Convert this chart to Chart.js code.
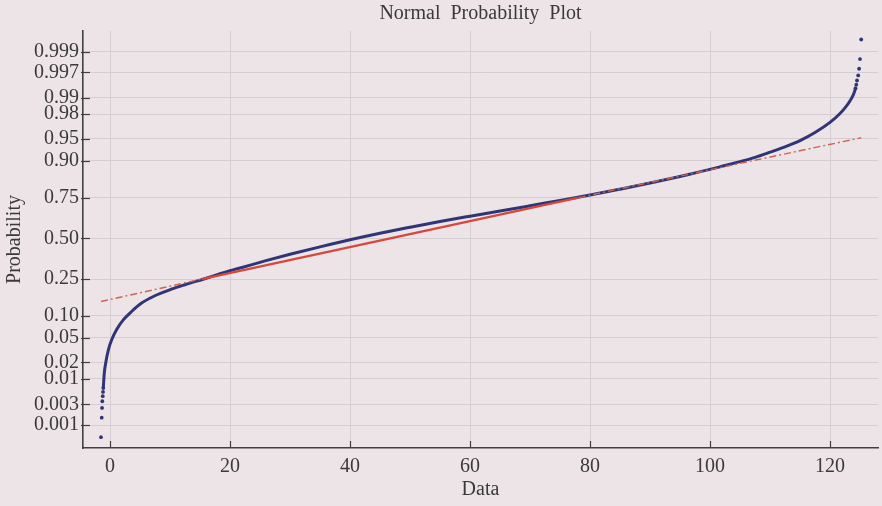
<!DOCTYPE html>
<html>
<head>
<meta charset="utf-8">
<script src="https://cdn.jsdelivr.net/npm/chart.js@4.4.1/dist/chart.umd.min.js"></script>
<style>
  html, body { margin: 0; padding: 0; background: #ece4e7; overflow: hidden; }
  #wrap { width: 882px; height: 506px; }
</style>
</head>
<body>
<div id="wrap"><canvas id="c" width="882" height="506"></canvas></div>
<script>
// ---- data ----
const xTickValues = [0, 20, 40, 60, 80, 100, 120];
const probTicks = [0.001, 0.003, 0.01, 0.02, 0.05, 0.10, 0.25, 0.50, 0.75, 0.90, 0.95, 0.98, 0.99, 0.997, 0.999];
const probTickLabels = ['0.001', '0.003', '0.01', '0.02', '0.05', '0.10', '0.25', '0.50', '0.75', '0.90', '0.95', '0.98', '0.99', '0.997', '0.999'];

// sample data (sorted) and their probabilities
const dataX = [-1.50, -1.38, -1.33, -1.28, -1.21, -1.16, -1.12,
  -0.95, -0.71, -0.28, 0.28, 1.11, 2.21, 3.60, 5.27, 7.48, 10.25, 12.46, 15.78,
  18.0, 20.0, 22.0, 26.0, 30.0, 35.0, 40.0, 45.0, 50.0, 55.0, 60.0, 65.0, 70.0, 75.0, 80.0, 85.0, 90.0, 95.0, 100.0,
  102.5, 105.0, 107.5, 110.0, 112.5, 115.0, 117.5, 120.0,
  121.5, 122.5, 123.3, 123.9, 124.25, 124.38,
  124.5, 124.7, 124.85, 125.0, 125.2];
const dataP = [0.0005, 0.0015, 0.0025, 0.0035, 0.0045, 0.0055, 0.0066,
  0.0129, 0.0197, 0.0322, 0.0465, 0.0655, 0.0885, 0.113, 0.142, 0.171, 0.200, 0.221, 0.252,
  0.275, 0.296, 0.315, 0.356, 0.396, 0.444, 0.491, 0.534, 0.573, 0.610, 0.643, 0.674, 0.705, 0.735, 0.763, 0.792, 0.820, 0.847, 0.873,
  0.886, 0.898, 0.910, 0.923, 0.935, 0.947, 0.960, 0.9725,
  0.9798, 0.9846, 0.9884, 0.9913, 0.9935, 0.9945,
  0.9955, 0.9965, 0.9975, 0.9985, 0.9995];

// reference line (solid between quartiles, dash-dot extensions)
const fitSolidX = [15.3, 78.1];
const fitSolidP = [0.25, 0.75];
const fitLowX = [-1.5, 15.3];
const fitLowP = [0.148, 0.25];
const fitHighX = [78.1, 125.2];
const fitHighP = [0.75, 0.952];

const xRange = [-4.5, 128];
const pRange = [0.00026, 0.9997];

// ---- normal probability scale transform ----
function norminv(p) {
  const a = [-3.969683028665376e+01, 2.209460984245205e+02, -2.759285104469687e+02, 1.383577518672690e+02, -3.066479806614716e+01, 2.506628277459239e+00];
  const b = [-5.447609879822406e+01, 1.615858368580409e+02, -1.556989798598866e+02, 6.680131188771972e+01, -1.328068155288572e+01];
  const c = [-7.784894002430293e-03, -3.223964580411365e-01, -2.400758277161838e+00, -2.549732539343734e+00, 4.374664141464968e+00, 2.938163982698783e+00];
  const d = [7.784695709041462e-03, 3.224671290700398e-01, 2.445134137142996e+00, 3.754408661907416e+00];
  const pl = 0.02425, ph = 1 - pl;
  if (p < pl) {
    const q = Math.sqrt(-2 * Math.log(p));
    return (((((c[0]*q+c[1])*q+c[2])*q+c[3])*q+c[4])*q+c[5]) / ((((d[0]*q+d[1])*q+d[2])*q+d[3])*q+1);
  }
  if (p <= ph) {
    const q = p - 0.5, r = q * q;
    return (((((a[0]*r+a[1])*r+a[2])*r+a[3])*r+a[4])*r+a[5])*q / (((((b[0]*r+b[1])*r+b[2])*r+b[3])*r+b[4])*r+1);
  }
  const q = Math.sqrt(-2 * Math.log(1 - p));
  return -(((((c[0]*q+c[1])*q+c[2])*q+c[3])*q+c[4])*q+c[5]) / ((((d[0]*q+d[1])*q+d[2])*q+d[3])*q+1);
}
const toPts = (xs, ps) => xs.map((x, i) => ({ x: x, y: norminv(ps[i]) }));

const BLUE = '#2f3576';
const RED = '#d8473d';
const RED2 = '#cf6450';
const TEXT = '#3a3a3a';
const GRID = '#d5cdd1';
const AXIS = '#404040';
const FONT = "'Liberation Serif', 'Times New Roman', serif";

const nData = dataX.length;
const lowDots = 6, highDots = nData - 6; // outside these the samples show as separate dots

const inwardTicks = {
  id: 'inwardTicks',
  afterDraw(chart) {
    const { ctx, chartArea: a, scales: { x, y } } = chart;
    ctx.save();
    ctx.strokeStyle = AXIS;
    ctx.lineWidth = 1.2;
    y.ticks.forEach(t => {
      const py = Math.round(y.getPixelForValue(t.value)) + 0.5;
      ctx.beginPath(); ctx.moveTo(a.left - 2, py); ctx.lineTo(a.left + 7, py); ctx.stroke();
    });
    x.ticks.forEach(t => {
      const px = Math.round(x.getPixelForValue(t.value)) + 0.5;
      ctx.beginPath(); ctx.moveTo(px, a.bottom); ctx.lineTo(px, a.bottom - 7); ctx.stroke();
    });
    ctx.restore();
  }
};

new Chart(document.getElementById('c'), {
  type: 'scatter',
  data: {
    datasets: [
      {
        label: 'fit low',
        data: toPts(fitLowX, fitLowP),
        showLine: true, borderColor: RED2, borderWidth: 1.4,
        borderDash: [7, 3, 2, 3], pointRadius: 0
      },
      {
        label: 'fit high',
        data: toPts(fitHighX, fitHighP),
        showLine: true, borderColor: RED2, borderWidth: 1.4,
        borderDash: [7, 3, 2, 3], pointRadius: 0
      },
      {
        label: 'fit',
        data: toPts(fitSolidX, fitSolidP),
        showLine: true, borderColor: RED, borderWidth: 2.2, pointRadius: 0
      },
      {
        label: 'data',
        data: toPts(dataX, dataP),
        showLine: true,
        borderColor: BLUE,
        borderWidth: 3.0,
        cubicInterpolationMode: 'monotone',
        segment: {
          borderColor: ctx => (ctx.p0DataIndex < lowDots || ctx.p0DataIndex >= highDots - 1) ? 'rgba(0,0,0,0)' : BLUE
        },
        pointRadius: ctx => (ctx.dataIndex <= lowDots || ctx.dataIndex >= highDots - 1) ? 1.9 : 0,
        pointBackgroundColor: BLUE,
        pointBorderWidth: 0
      }
    ]
  },
  options: {
    responsive: false,
    animation: false,
    layout: { padding: { left: 0, right: 2, top: 0, bottom: 0 } },
    plugins: {
      legend: { display: false },
      tooltip: { enabled: false },
      title: {
        display: true,
        text: 'Normal  Probability  Plot',
        fullSize: false,
        color: TEXT,
        font: { family: FONT, size: 20, weight: 'normal' },
        padding: { top: 2, bottom: 5 }
      }
    },
    scales: {
      x: {
        type: 'linear',
        min: xRange[0], max: xRange[1],
        afterBuildTicks: s => { s.ticks = xTickValues.map(v => ({ value: v })); },
        afterFit: s => { s.height = 58; },
        grid: { color: GRID, lineWidth: 1, drawTicks: false },
        border: { display: true, color: AXIS, width: 1.6 },
        ticks: { color: TEXT, font: { family: FONT, size: 20 }, padding: 7, maxRotation: 0, autoSkip: false },
        title: { display: true, text: 'Data', color: TEXT, font: { family: FONT, size: 20 }, padding: { top: 0, bottom: 4 } }
      },
      y: {
        type: 'linear',
        min: norminv(pRange[0]), max: norminv(pRange[1]),
        afterBuildTicks: s => { s.ticks = probTicks.map(p => ({ value: norminv(p) })); },
        afterFit: s => { s.width = 83; },
        grid: { color: GRID, lineWidth: 1, drawTicks: false },
        border: { display: true, color: AXIS, width: 1.6 },
        ticks: {
          color: TEXT, font: { family: FONT, size: 20 }, padding: 4, autoSkip: false,
          callback: (v, i) => probTickLabels[i]
        },
        title: { display: true, text: 'Probability', color: TEXT, font: { family: FONT, size: 20 }, padding: { top: 3, bottom: 0 } }
      }
    }
  },
  plugins: [inwardTicks]
});
</script>
</body>
</html>
